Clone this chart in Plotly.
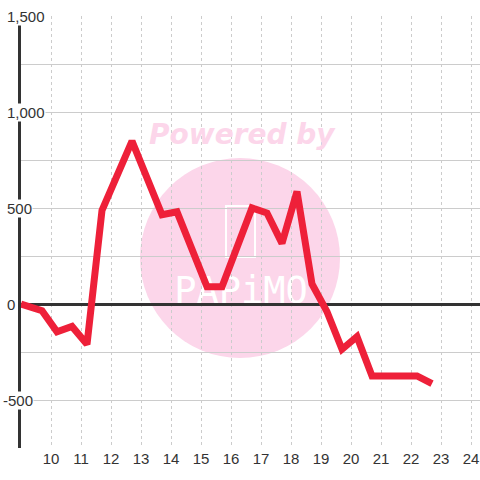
import plotly.graph_objects as go

# values
hours = [9.0, 9.7, 10.2, 10.7, 11.2, 11.7, 12.7, 13.7, 14.2, 15.2, 15.7,
         16.7, 17.2, 17.7, 18.2, 18.7, 19.2, 19.7, 20.2, 20.7, 22.2, 22.7]
values = [0, -35, -145, -117, -210, 488, 848, 465, 480, 90, 90,
          500, 474, 316, 586, 104, -40, -236, -170, -375, -375, -415]
y_labels = [1500, 1000, 500, 0, -500]
x_ticks = list(range(10, 25))

RED = "#ee2039"
INK = "#333333"
GRID = "#cccccc"
PINK = "#fcd6ea"

W, H = 480, 480
L, R, T, B = 21, 0, 16, 32
pw, ph = W - L - R, H - T - B


def px(x):
    return (x - L) / pw


def py(y):
    return (H - B - y) / ph


fig = go.Figure()
fig.add_trace(go.Scatter(x=hours, y=values, mode="lines",
                         line=dict(color=RED, width=7), hoverinfo="skip"))

# watermark
fig.add_shape(type="circle", xref="paper", yref="paper", layer="below",
              x0=px(140), x1=px(340), y0=py(358), y1=py(158),
              fillcolor=PINK, line=dict(width=0))
fig.add_shape(type="rect", xref="paper", yref="paper", layer="below",
              x0=px(226), x1=px(255), y0=py(257), y1=py(206),
              fillcolor="rgba(0,0,0,0)", line=dict(color="white", width=2))
fig.add_shape(type="rect", xref="paper", yref="paper", layer="below",
              x0=px(170), x1=px(312), y0=py(306), y1=py(268),
              fillcolor="rgba(0,0,0,0)", line=dict(width=0),
              label=dict(text="PAPiMO", textposition="middle center",
                         font=dict(family="DejaVu Sans Mono", size=37, color="white")))
fig.add_annotation(xref="paper", yref="paper", x=px(242), y=py(134),
                   xanchor="center", yanchor="middle",
                   text="<b><i>Powered by</i></b>", showarrow=False,
                   font=dict(family="DejaVu Sans", size=28, color=PINK))

# y labels sit over the axis line on a white patch
for v in y_labels:
    lab = f"{v:,}"
    fig.add_annotation(xref="paper", yref="y", x=px(2 if v < 0 else 6), y=v,
                       xanchor="left", yanchor="middle", text=lab, showarrow=False,
                       bgcolor="white", borderpad=0,
                       font=dict(family="Liberation Sans", size=15, color=INK))

fig.update_xaxes(range=[9, 24.3], tickvals=x_ticks, showgrid=True,
                 gridcolor=GRID, griddash="dot", gridwidth=1,
                 zeroline=False, showline=False, ticks="",
                 tickfont=dict(family="Liberation Sans", size=15, color=INK))
fig.update_yaxes(range=[-750, 1500], dtick=250, tick0=0, showticklabels=False,
                 showgrid=True, gridcolor=GRID, gridwidth=1,
                 zeroline=True, zerolinecolor=INK, zerolinewidth=3,
                 showline=True, linecolor=INK, linewidth=3, ticks="")

fig.update_layout(width=W, height=H, showlegend=False,
                  paper_bgcolor="white", plot_bgcolor="white",
                  margin=dict(l=L, r=R, t=T, b=B))

# drop the page's default 8px body margin so the chart fills the window
fig.write_html("out.html", config={"displayModeBar": False},
               post_script="document.body.style.margin='0';")
